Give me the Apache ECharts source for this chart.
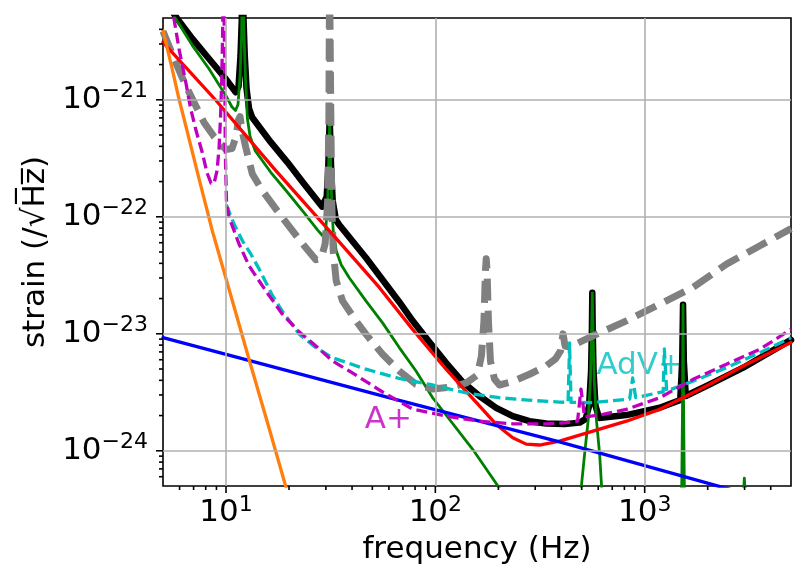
<!DOCTYPE html>
<html>
<head>
<meta charset="utf-8">
<title>strain noise</title>
<script src="https://cdn.jsdelivr.net/npm/echarts@6/dist/echarts.min.js"></script>
<style>
  html, body { margin: 0; padding: 0; background: #fff; }
  #chart { width: 810px; height: 581px; }
</style>
</head>
<body>
<div id="chart"></div>
<script>
const totalFreq = [5, 5.85, 6.90, 8.29, 9.97, 11.13, 11.48, 11.73, 11.89, 11.97, 12.05, 12.13, 12.29, 12.53, 12.88, 13.32, 16.36, 19.65, 23.62, 28.8, 30.27, 30.76, 31.11, 31.28, 31.45, 31.80, 32.33, 33.49, 34.73, 46.6, 67.25, 77.9, 93.6, 112.5, 135.1, 162.4, 195.2, 234.4, 281.7, 338.6, 414.2, 488.7, 522.1, 542.6, 554.6, 559.5, 562.1, 564.6, 569.6, 582.3, 605.9, 817.6, 1180, 1479, 1511, 1525, 1538, 1571, 2046, 2953, 5000];
const totalStrain = [7.36e-21, 4.94e-21, 3.33e-21, 2.24e-21, 1.51e-21, 1.16e-21, 1.30e-21, 2.39e-21, 4.77e-21, 1.28e-20, 1.28e-20, 4.77e-21, 2.39e-21, 1.25e-21, 8.42e-22, 7.10e-22, 4.34e-22, 2.92e-22, 1.91e-22, 1.22e-22, 1.49e-22, 2.48e-22, 4.94e-22, 7.05e-22, 4.94e-22, 2.48e-22, 1.37e-22, 9.44e-23, 8.55e-23, 4.47e-23, 1.87e-23, 1.29e-23, 8.52e-24, 5.64e-24, 3.87e-24, 2.94e-24, 2.33e-24, 1.98e-24, 1.79e-24, 1.71e-24, 1.69e-24, 1.74e-24, 1.87e-24, 2.42e-24, 4.81e-24, 1.06e-23, 2.24e-23, 1.06e-23, 4.81e-24, 2.42e-24, 1.91e-24, 2.02e-24, 2.33e-24, 2.72e-24, 5.86e-24, 1.77e-23, 5.86e-24, 2.94e-24, 3.70e-24, 5.13e-24, 8.87e-24];
const thermalFreq = [5, 5.74, 6.90, 8.29, 9.97, 10.68, 11.10, 11.41, 11.67, 11.87, 11.98, 12.05, 12.19, 12.40, 12.65, 13.03, 13.77, 16.36, 19.65, 23.62, 27.35, 28.95, 29.93, 30.59, 31.11, 31.28, 31.45, 31.98, 32.51, 33.6, 35.5, 38.78, 46.6, 55.96, 67.25, 80.84, 97.1, 150.8, 206.9, 314.5, 477.9, 497.9, 516.4, 536.7, 550.4, 557.6, 562.1, 566.5, 574.1, 588.8, 609.2, 622.8, 650.8, 946.3, 1503, 1517, 1525, 1533, 1547, 1832, 2976, 2993, 3010, 5000];
const thermalStrain = [7.82e-21, 4.94e-21, 2.92e-21, 1.84e-21, 1.09e-21, 8.67e-22, 8.09e-22, 9.12e-22, 1.61e-21, 3.56e-21, 1.28e-20, 1.28e-20, 3.56e-21, 1.46e-21, 6.92e-22, 4.85e-22, 3.68e-22, 2.40e-22, 1.62e-22, 1.08e-22, 7.74e-23, 6.89e-23, 7.60e-23, 1.37e-22, 4.06e-22, 6.92e-22, 4.06e-22, 1.37e-22, 7.60e-23, 5.13e-23, 3.89e-23, 3.01e-23, 1.91e-23, 1.24e-23, 7.62e-24, 4.81e-24, 2.84e-24, 1.03e-24, 4.52e-25, 1.14e-25, 2.50e-25, 4.89e-25, 9.38e-25, 1.79e-24, 3.94e-24, 1.06e-23, 2.24e-23, 1.06e-23, 3.94e-24, 1.79e-24, 9.38e-25, 4.89e-25, 2.50e-25, 1.14e-25, 4.89e-25, 2.66e-24, 1.77e-23, 2.66e-24, 4.89e-25, 1.14e-25, 4.89e-25, 5.83e-25, 4.89e-25, 1.14e-25];
const quantumFreq = [5, 8.96, 17.29, 36.02, 53.97, 77.9, 112.5, 135.1, 162.4, 195.2, 234.4, 271.6, 314.5, 392.0, 565.9, 817.6, 1180, 1525, 2046, 2953, 5000];
const quantumStrain = [3.10e-21, 9.86e-22, 2.48e-22, 5.66e-23, 2.49e-23, 1.09e-23, 4.98e-24, 3.46e-24, 2.42e-24, 1.68e-24, 1.29e-24, 1.14e-24, 1.12e-24, 1.21e-24, 1.47e-24, 1.79e-24, 2.26e-24, 2.84e-24, 3.70e-24, 5.31e-24, 8.41e-24];
const coatingFreq = [5, 67.25, 392, 2336, 5000];
const coatingStrain = [9.27e-24, 2.70e-24, 1.19e-24, 4.89e-25, 3.43e-25];
const seismicFreq = [5, 5.53, 5.96, 6.42, 7.43, 8.60, 10.34, 12.88, 15.71, 19.58, 20.46];
const seismicStrain = [3.92e-21, 1.84e-21, 1.02e-21, 6.03e-22, 2.12e-22, 7.60e-23, 2.40e-23, 6.05e-24, 1.79e-24, 4.52e-25, 3.37e-25];
const olderFreq = [5, 5.74, 6.42, 7.16, 7.85, 8.76, 9.97, 10.68, 11.16, 11.48, 11.67, 11.93, 12.43, 13.36, 14.92, 17.54, 20.76, 23.62, 26.87, 28.48, 29.77, 30.59, 31.0, 31.13, 31.23, 31.45, 31.62, 31.98, 32.51, 33.6, 36.02, 41.75, 46.6, 55.96, 67.25, 80.84, 97.1, 120.6, 140.7, 158.9, 166.0, 170.7, 173.5, 175.0, 176.6, 179.3, 183.3, 191.6, 202.4, 234.4, 281.7, 338.6, 375.1, 396.3, 407.4, 416.5, 437.7, 565.9, 817.6, 1180, 1702, 2460, 3550, 5000];
const olderStrain = [3.85e-21, 2.10e-21, 1.32e-21, 8.93e-22, 6.40e-22, 4.85e-22, 3.76e-22, 3.83e-22, 4.85e-22, 6.78e-22, 7.19e-22, 5.46e-22, 3.91e-22, 2.32e-22, 1.67e-22, 1.13e-22, 7.60e-23, 5.66e-23, 4.30e-23, 4.38e-23, 5.89e-23, 1.37e-22, 6.65e-22, 3.22e-21, 1.28e-20, 1.28e-20, 9.86e-22, 1.37e-22, 5.13e-23, 2.84e-23, 1.91e-23, 1.29e-23, 9.93e-24, 6.68e-24, 4.81e-24, 3.70e-24, 3.37e-24, 3.51e-24, 3.80e-24, 4.45e-24, 6.47e-24, 1.29e-23, 3.46e-23, 4.38e-23, 3.46e-23, 1.29e-23, 5.86e-24, 4.11e-24, 3.65e-24, 3.91e-24, 4.51e-24, 5.31e-24, 6.10e-24, 7.14e-24, 9.98e-24, 7.87e-24, 7.73e-24, 9.59e-24, 1.29e-23, 1.79e-23, 2.49e-23, 3.94e-23, 5.66e-23, 7.91e-23];
const advPlusFreq = [10.03, 10.92, 11.97, 13.13, 14.38, 16.6, 18.53, 22.35, 26.87, 32.26, 46.6, 67.25, 97.1, 140.3, 202.4, 292.1, 392, 430.5, 435.7, 437.7, 439.6, 445.0, 565.9, 847.8, 876.3, 905.6, 1180, 1226, 1241, 1252, 1274, 1702, 2460, 3550, 5000];
const advPlusStrain = [1.27e-22, 8.67e-23, 6.24e-23, 4.81e-23, 3.59e-23, 2.15e-23, 1.57e-23, 9.93e-24, 7.62e-24, 6.25e-24, 4.98e-24, 4.15e-24, 3.65e-24, 3.12e-24, 2.84e-24, 2.69e-24, 2.61e-24, 2.59e-24, 5.86e-24, 8.36e-24, 5.86e-24, 2.59e-24, 2.58e-24, 2.77e-24, 4.19e-24, 2.85e-24, 3.15e-24, 3.18e-24, 7.43e-24, 7.43e-24, 3.24e-24, 3.94e-24, 5.13e-24, 6.90e-24, 9.27e-24];
const aPlusFreq = [5.34, 5.64, 5.96, 6.42, 6.78, 7.19, 7.70, 8.11, 8.48, 8.76, 9.06, 9.26, 9.41, 9.54, 9.64, 9.71, 9.78, 9.86, 9.92, 10.05, 10.34, 11.54, 12.88, 15.49, 18.6, 22.35, 26.87, 32.26, 38.78, 55.96, 77.9, 112.5, 162.4, 234.4, 338.6, 422.1, 477.9, 496.3, 499.6, 516.4, 631.8, 817.6, 1180, 1702, 2460, 3550, 5000];
const aPlusStrain = [9.52e-21, 4.94e-21, 2.74e-21, 1.42e-21, 8.38e-22, 5.46e-22, 3.54e-22, 2.38e-22, 1.94e-22, 1.92e-22, 2.48e-22, 3.83e-22, 6.92e-22, 1.46e-21, 3.92e-21, 1.28e-20, 1.28e-20, 2.17e-21, 3.68e-22, 1.37e-22, 9.88e-23, 5.85e-23, 3.81e-23, 2.33e-23, 1.47e-23, 1.04e-23, 7.87e-24, 5.86e-24, 4.81e-24, 3.18e-24, 2.27e-24, 1.98e-24, 1.79e-24, 1.70e-24, 1.70e-24, 1.74e-24, 1.79e-24, 3.37e-24, 3.37e-24, 1.94e-24, 2.05e-24, 2.26e-24, 2.84e-24, 4.08e-24, 5.50e-24, 7.38e-24, 1.09e-23];

const xMajorTicks = [10, 100, 1000];
const xMinorTicks = [6, 7, 8, 9, 20, 30, 40, 50, 60, 70, 80, 90, 200, 300, 400, 500, 600, 700, 800, 900, 2000, 3000, 4000];
const yMajorTicks = [1e-24, 1e-23, 1e-22, 1e-21];
const yMinorTicks = [6e-25, 7e-25, 8e-25, 9e-25,
  2e-24, 3e-24, 4e-24, 5e-24, 6e-24, 7e-24, 8e-24, 9e-24,
  2e-23, 3e-23, 4e-23, 5e-23, 6e-23, 7e-23, 8e-23, 9e-23,
  2e-22, 3e-22, 4e-22, 5e-22, 6e-22, 7e-22, 8e-22, 9e-22,
  2e-21, 3e-21, 4e-21];

const curveLabels = [
  { text: 'AdV+', freq: 952, strain: 5.36e-24, color: '#00bfbf' },
  { text: 'A+', freq: 59.6, strain: 1.85e-24, color: '#bf00bf' },
];

// the log scale rounds tiny numbers to 0, so strain goes onto the axis in units of 1e-25
const STRAIN_UNIT = 1e-25;
const UNIT_POWER = -25;
const toUnit = h => h / STRAIN_UNIT;

const FONT = 'DejaVu Sans';
const X_MIN = 5;
const X_MAX = 5000;
const Y_MIN = toUnit(5e-25);
const Y_MAX = toUnit(5e-21);

const chart = echarts.init(document.getElementById('chart'));

const pair = (f, h) => f.map((v, i) => [v, toUnit(h[i])]);
const power = v => Math.round(Math.log10(v));

function curve(name, freq, strain, color, width, dash) {
  return {
    name,
    type: 'line',
    data: pair(freq, strain),
    showSymbol: false,
    symbol: 'none',
    clip: true,
    silent: true,
    lineStyle: { color, width, type: dash || 'solid', join: 'round', cap: dash ? 'butt' : 'round' },
  };
}

// outward tick marks, placed through the axes' own scales
function tickSeries(values, isX, len) {
  return {
    type: 'custom',
    silent: true,
    clip: false,
    z: 10,
    data: values.map(v => (isX ? [v, Y_MIN] : [X_MIN, toUnit(v)])),
    renderItem: (params, api) => {
      const p = api.coord([api.value(0), api.value(1)]);
      return {
        type: 'line',
        shape: isX
          ? { x1: p[0], y1: p[1], x2: p[0], y2: p[1] + len }
          : { x1: p[0], y1: p[1], x2: p[0] - len, y2: p[1] },
        style: { stroke: '#000', lineWidth: 1.6 },
      };
    },
  };
}

const tickRich = {
  b: { fontFamily: FONT, fontSize: 31, color: '#000', lineHeight: 38 },
  s: { fontFamily: FONT, fontSize: 22, color: '#000', verticalAlign: 'top', lineHeight: 22 },
};

const option = {
  animation: false,
  backgroundColor: '#fff',
  grid: {
    left: 163, right: 19, top: 18, bottom: 95,
    show: true, borderColor: '#000', borderWidth: 1.6,
    containLabel: false, outerBoundsMode: 'none',
  },
  xAxis: {
    type: 'log',
    logBase: 10,
    min: X_MIN,
    max: X_MAX,
    position: 'bottom',
    name: 'frequency (Hz)',
    nameLocation: 'middle',
    nameGap: 48,
    nameTextStyle: { fontFamily: FONT, fontSize: 31, color: '#000' },
    axisLine: { show: false },
    axisTick: { show: false },
    minorTick: { show: false },
    splitLine: { show: false },
    axisLabel: {
      show: true, customValues: xMajorTicks, margin: 8, fontFamily: FONT,
      formatter: v => `{b|10}{s|${power(v)}}`, rich: tickRich,
    },
  },
  yAxis: {
    type: 'log',
    logBase: 10,
    min: Y_MIN,
    max: Y_MAX,
    position: 'left',
    name: 'strain (/\u221aH\u0305z\u0305)',
    nameLocation: 'middle',
    nameGap: 108,
    nameTextStyle: { fontFamily: FONT, fontSize: 31, color: '#000' },
    axisLine: { show: false },
    axisTick: { show: false },
    minorTick: { show: false },
    splitLine: { show: false },
    axisLabel: {
      show: true, customValues: yMajorTicks.map(toUnit), margin: 15, fontFamily: FONT,
      formatter: v => `{b|10}{s|\u2212${-(power(v) + UNIT_POWER)}}`, rich: tickRich,
    },
  },
  series: [
    {
      // grid lines at the major ticks
      type: 'line',
      data: [],
      silent: true,
      markLine: {
        silent: true,
        symbol: 'none',
        label: { show: false },
        lineStyle: { color: '#b0b0b0', width: 1.6, type: 'solid' },
        data: xMajorTicks.map(v => ({ xAxis: v })).concat(yMajorTicks.map(v => ({ yAxis: toUnit(v) }))),
      },
    },
    curve('total', totalFreq, totalStrain, '#000000', 6.5),
    curve('thermal', thermalFreq, thermalStrain, '#008000', 2.8),
    curve('older', olderFreq, olderStrain, '#808080', 7, [22, 10]),
    curve('quantum', quantumFreq, quantumStrain, '#ff0000', 3.3),
    curve('coating', coatingFreq, coatingStrain, '#0000ff', 3.3),
    curve('seismic', seismicFreq, seismicStrain, '#ff7f0e', 3.3),
    curve('AdV+', advPlusFreq, advPlusStrain, '#00bfbf', 3.3, [11, 5]),
    curve('A+', aPlusFreq, aPlusStrain, '#bf00bf', 3.3, [11, 5]),
    {
      type: 'scatter',
      silent: true,
      symbolSize: 0,
      data: curveLabels.map(l => ({ value: [l.freq, toUnit(l.strain)], label: { formatter: l.text, color: l.color } })),
      label: { show: true, position: 'inside', fontFamily: FONT, fontSize: 31 },
    },
    tickSeries(xMajorTicks, true, 7),
    tickSeries(xMinorTicks, true, 4),
    tickSeries(yMajorTicks, false, 7),
    tickSeries(yMinorTicks, false, 4),
  ],
};

chart.setOption(option);
</script>
</body>
</html>
